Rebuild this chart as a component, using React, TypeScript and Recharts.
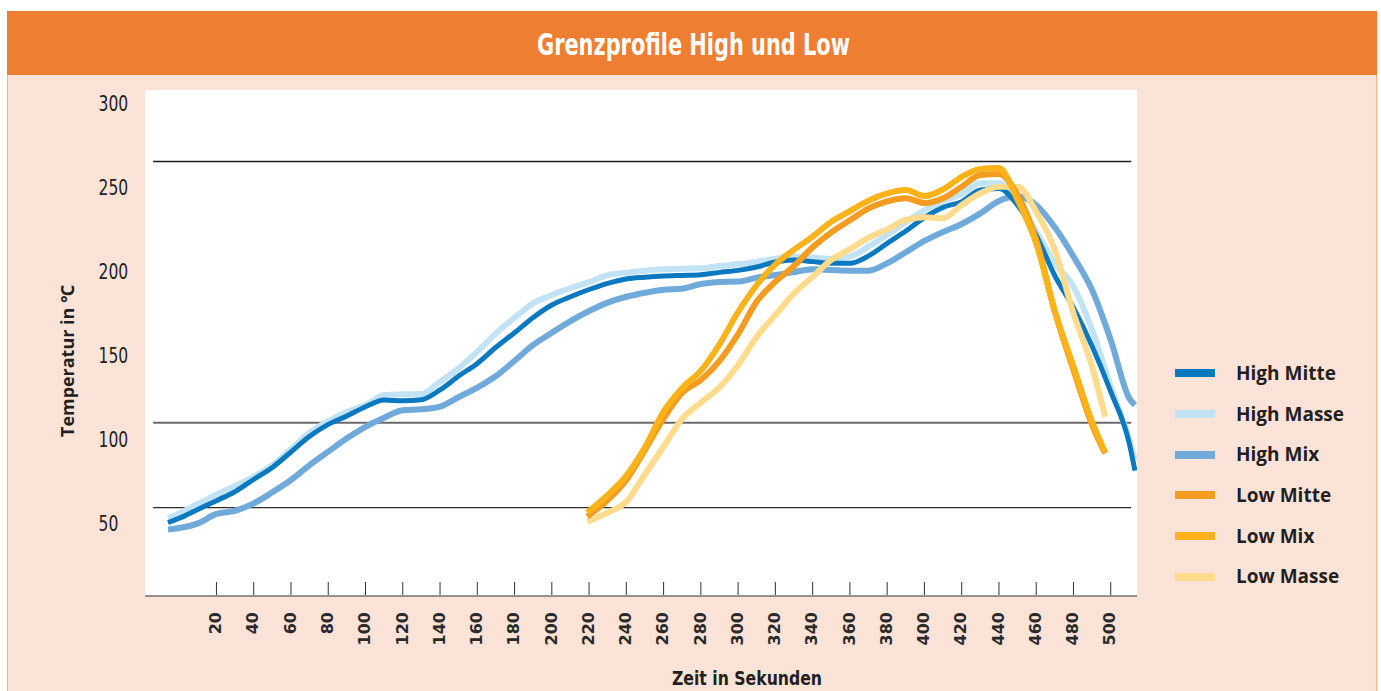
import { LineChart, Line, XAxis, YAxis, ReferenceLine, Legend } from "recharts";

// Zeit in Sekunden (High-Profile)
const highTimes = [
  -6, 0, 10, 20, 30, 40, 50, 60, 70, 80, 90, 100, 110, 120, 130, 140, 150, 160, 170, 180,
  190, 200, 210, 220, 230, 240, 250, 260, 270, 280, 290, 300, 310, 320, 330, 340, 350, 360,
  370, 380, 390, 400, 410, 420, 430, 440, 450, 460, 470, 480, 490, 500, 510, 513,
];
const highMitte = [
  50.0, 52.6, 57.9, 63.1, 68.5, 75.8, 82.9, 92.1, 101.4, 108.5, 113.5, 119, 123, 122.6, 123.2,
  129, 137.3, 144.8, 154.4, 163.1, 172.2, 179.6, 184.5, 188.8, 192.5, 195.1, 196.1, 196.8,
  197.2, 197.6, 199, 200.2, 202.2, 205.2, 206.4, 205.4, 204.4, 204.4, 208.8, 216.3, 223.6,
  231.6, 237.7, 241.1, 248, 249, 239, 221, 197, 178, 155, 128, 97, 81,
];
const highMasse = [
  52.6, 55.5, 61.1, 66.7, 71.8, 77.4, 84.3, 93.8, 103.6, 110.5, 115.9, 120, 126, 126.4, 126.6,
  134, 141.9, 151.8, 162.7, 172, 180.6, 185.5, 189.7, 193.2, 197.4, 198.8, 200, 200.8, 201.2,
  201.4, 202.8, 203.8, 205.2, 207.2, 208.4, 207.8, 207, 208.4, 214.3, 221.3, 228.8, 236.1,
  241.5, 245.7, 252, 252, 242.1, 223.2, 204.4, 190.5, 164.7, 131, 99.2, 87.3,
];
const highMix = [
  46, 46.8, 49.6, 55.2, 57.1, 61.5, 68.1, 75.4, 84.3, 92.3, 100.2, 107.1, 112.5, 116.9, 117.5,
  119.1, 124.8, 130.4, 137.3, 146.4, 155.8, 163.1, 170, 176, 181, 184.5, 186.9, 188.7, 189.3,
  192.1, 193.3, 193.5, 195.9, 197.4, 199.2, 200.8, 200.4, 200, 200, 204.4, 211, 217.7, 223,
  227.8, 234.1, 241.5, 244.1, 239.1, 225.8, 208.4, 188.5, 158.8, 124, 120,
];

// Zeit in Sekunden (Low-Profile)
const lowTimes = [
  219, 230, 240, 250, 260, 270, 280, 290, 300, 310, 320, 330, 340, 350, 360, 370, 380, 390,
  400, 410, 420, 430, 440, 450, 460, 470, 480, 490, 497,
];
const lowMitte = [
  53.6, 63.5, 75.4, 93.3, 112.1, 127.4, 134.9, 146.3, 162.3, 181.6, 193.5, 202.8, 213.9,
  222.8, 230, 237.1, 241.3, 243.1, 240.3, 243.1, 250, 257, 257.6, 245.1, 218.3, 175.6, 141,
  108.2, 91.3,
];
const lowMix = [
  56, 66.5, 78, 94.9, 116.1, 130.2, 140.5, 156.2, 175.4, 191.5, 203.8, 212.5, 220.3, 229.2,
  235.5, 241.7, 246, 248, 244.5, 248.4, 255.8, 260.5, 261.1, 242.1, 216.3, 176, 143, 110, 92,
];
const lowMasse = [
  50.6, 56, 62.5, 78.8, 95.3, 111.9, 121.5, 130.6, 143.9, 160.7, 173.6, 186.5, 196.4, 206.4,
  212.8, 219.7, 224.6, 230.2, 231.8, 231.2, 239.1, 246.1, 250, 250, 235.1, 212.3, 174.6,
  142.9, 113,
];

const xTicks = [
  20, 40, 60, 80, 100, 120, 140, 160, 180, 200, 220, 240, 260, 280, 300, 320, 340, 360, 380,
  400, 420, 440, 460, 480, 500,
];
const yTicks = [50, 100, 150, 200, 250, 300];
const gridLines = [
  { value: 265, color: "#1e1e1e", width: 1.3 },
  { value: 109.5, color: "#6a6a6a", width: 2 },
  { value: 59, color: "#2e2e2e", width: 1.3 },
];

const NARROW = "'Liberation Sans Narrow', 'DejaVu Sans Condensed', 'Liberation Sans', Arial, sans-serif";
const BODY = "'Open Sans', 'Noto Sans', 'DejaVu Sans', sans-serif";
const TEXT = "#231f20";

// layout of the plot box
const W = 1381;
const H = 691;
const PLOT_L = 145;
const PLOT_T = 90;
const PLOT_R = 1137;
const PLOT_B = 596;

const toPoints = (times: number[], values: number[]) =>
  times.map((t, i) => ({ t, v: values[i] }));

// legend order
const series = [
  { name: "High Mitte", color: "#0b79bf", width: 5, data: toPoints(highTimes, highMitte) },
  { name: "High Masse", color: "#c2e3f6", width: 6, data: toPoints(highTimes, highMasse) },
  { name: "High Mix", color: "#70aadb", width: 6, data: toPoints(highTimes, highMix) },
  { name: "Low Mitte", color: "#f49c1f", width: 6, data: toPoints(lowTimes, lowMitte) },
  { name: "Low Mix", color: "#fbb319", width: 6, data: toPoints(lowTimes, lowMix) },
  { name: "Low Masse", color: "#fedb8d", width: 6, data: toPoints(lowTimes, lowMasse) },
];
// which line is painted over which
const drawOrder = ["High Mix", "High Masse", "High Mitte", "Low Masse", "Low Mitte", "Low Mix"];

const XTick = (props: any) => {
  const { x, payload } = props;
  const tx = x - 1;
  const ty = 612;
  return (
    <g>
      <line x1={x} y1={PLOT_B - 1} x2={x} y2={PLOT_B - 14} stroke="#333" strokeWidth={1} />
      <text
        x={tx}
        y={ty}
        dy="0.36em"
        transform={`rotate(-90 ${tx} ${ty})`}
        textAnchor="end"
        fontFamily="'DejaVu Sans', sans-serif"
        fontWeight={700}
        fontSize={16}
        fill="#2a2a2a"
      >
        {payload.value}
      </text>
    </g>
  );
};

const YTick = (props: any) => {
  const { y, payload } = props;
  const label = String(payload.value);
  return (
    <text
      x={98.5}
      y={y}
      dy="0.36em"
      textAnchor="start"
      fontFamily={NARROW}
      fontSize={22}
      fill={TEXT}
      textLength={label.length * 9.9}
      lengthAdjust="spacingAndGlyphs"
    >
      {label}
    </text>
  );
};

const LegendBox = () => (
  <div style={{ fontFamily: BODY }}>
    {series.map((s) => (
      <div key={s.name} style={{ display: "flex", alignItems: "center", height: 40.7 }}>
        <span
          style={{ display: "inline-block", width: 40, height: 8, background: s.color, marginRight: 21 }}
        />
        <span style={{ fontSize: 19, fontWeight: 700, color: TEXT, lineHeight: 1 }}>{s.name}</span>
      </div>
    ))}
  </div>
);

export default function App() {
  return (
    <div
      style={{
        position: "absolute",
        left: 0,
        top: 0,
        width: W,
        height: H,
        overflow: "hidden",
        background: "#ffffff",
        fontFamily: BODY,
      }}
    >
      {/* peach panel and orange title bar */}
      <div
        style={{
          position: "absolute",
          left: 7,
          top: 11,
          width: 1370,
          height: H - 11,
          background: "#fbe4d7",
          borderLeft: "1.5px solid #f5b58c",
          borderRight: "1.5px solid #f5b58c",
          boxSizing: "border-box",
        }}
      />
      <div style={{ position: "absolute", left: 7, top: 11, width: 1370, height: 64, background: "#ee7e32" }} />
      <div
        style={{
          position: "absolute",
          left: PLOT_L,
          top: PLOT_T,
          width: PLOT_R - PLOT_L,
          height: PLOT_B - PLOT_T,
          background: "#ffffff",
        }}
      />

      <div style={{ position: "absolute", left: 0, top: 0 }}>
        <LineChart width={W} height={H} margin={{ top: PLOT_T, right: W - PLOT_R, bottom: 0, left: 0 }}>
          <XAxis
            dataKey="t"
            type="number"
            domain={[-18.36, 514.1]}
            ticks={xTicks}
            interval={0}
            allowDataOverflow
            height={H - PLOT_B}
            tickLine={false}
            axisLine={{ stroke: "#333", strokeWidth: 1.2 }}
            tick={<XTick />}
          />
          <YAxis
            type="number"
            domain={[6.36, 307.56]}
            ticks={yTicks}
            interval={0}
            allowDataOverflow
            width={PLOT_L}
            axisLine={false}
            tickLine={false}
            tick={<YTick />}
          />
          {gridLines.map((g) => (
            <ReferenceLine
              key={g.value}
              segment={[
                { x: -14, y: g.value },
                { x: 511, y: g.value },
              ]}
              stroke={g.color}
              strokeWidth={g.width}
            />
          ))}
          {drawOrder.map((name) => {
            const s = series.find((item) => item.name === name)!;
            return (
              <Line
                key={s.name}
                name={s.name}
                data={s.data}
                dataKey="v"
                type="monotone"
                stroke={s.color}
                strokeWidth={s.width}
                strokeLinejoin="round"
                dot={false}
                activeDot={false}
                isAnimationActive={false}
              />
            );
          })}
          <Legend
            layout="vertical"
            align="center"
            verticalAlign="middle"
            wrapperStyle={{ left: 1175, top: 353, width: 200 }}
            content={() => <LegendBox />}
          />
        </LineChart>
      </div>

      {/* titles */}
      <svg width={W} height={H} style={{ position: "absolute", left: 0, top: 0, pointerEvents: "none" }}>
        <text
          x={693.5}
          y={55}
          textAnchor="middle"
          fontFamily={NARROW}
          fontWeight={700}
          fontSize={30}
          fill="#ffffff"
          textLength={313}
          lengthAdjust="spacingAndGlyphs"
        >
          Grenzprofile High und Low
        </text>
        <text
          x={747}
          y={685}
          textAnchor="middle"
          fontFamily={NARROW}
          fontWeight={700}
          fontSize={19}
          fill={TEXT}
          textLength={150}
          lengthAdjust="spacingAndGlyphs"
        >
          Zeit in Sekunden
        </text>
        <text
          x={74}
          y={361}
          transform="rotate(-90 74 361)"
          textAnchor="middle"
          fontFamily={BODY}
          fontWeight={700}
          fontSize={18}
          fill={TEXT}
          textLength={152}
          lengthAdjust="spacingAndGlyphs"
        >
          Temperatur in ℃
        </text>
      </svg>
    </div>
  );
}
